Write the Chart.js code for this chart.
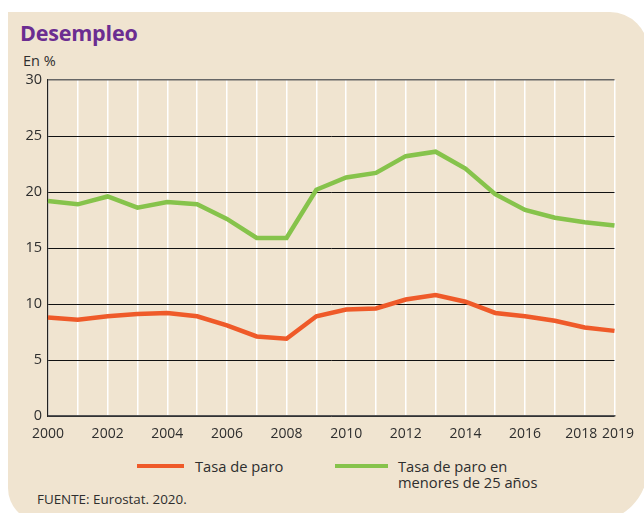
<!DOCTYPE html>
<html>
<head>
<meta charset="utf-8">
<script src="https://cdn.jsdelivr.net/npm/chart.js@4"></script>
<style>
  html, body { margin: 0; padding: 0; background: #fff; }
  body { width: 644px; height: 513px; position: relative; overflow: hidden; font-family: 'Open Sans', sans-serif; color: #2e2e2e; }
  #panel {
    position: absolute; left: 8px; top: 12px; width: 640px; height: 510px;
    background: #f0e4d0;
    border-radius: 0 38px 55px 34px;
  }
  #titulo { position: absolute; left: 20px; top: 18px; font-size: 21.5px; font-weight: 700; color: #6b2d91; letter-spacing: -0.2px; }
  #unidad { position: absolute; left: 23px; top: 51px; font-size: 14.5px; }
  #grafico { position: absolute; left: 0; top: 0; }
  .ley { position: absolute; font-size: 14.7px; line-height: 16px; }
  .linea { position: absolute; height: 4px; }
  #fuente { position: absolute; left: 37px; top: 490px; font-size: 13.4px; }
</style>
</head>
<body>
<div id="panel"></div>
<div id="titulo">Desempleo</div>
<div id="unidad">En %</div>
<canvas id="grafico" width="644" height="450"></canvas>
<div class="linea" style="left:137px; top:464px; width:47px; background:#ef5a29;"></div>
<div class="ley" style="left:195px; top:458px;">Tasa de paro</div>
<div class="linea" style="left:335px; top:464px; width:53px; background:#86c34b;"></div>
<div class="ley" style="left:398px; top:458px;">Tasa de paro en<br>menores de 25 años</div>
<div id="fuente">FUENTE: Eurostat. 2020.</div>
<script>
const anios = [2000, 2001, 2002, 2003, 2004, 2005, 2006, 2007, 2008, 2009,
               2010, 2011, 2012, 2013, 2014, 2015, 2016, 2017, 2018, 2019];
const tasaParo = [8.8, 8.6, 8.9, 9.1, 9.2, 8.9, 8.1, 7.1, 6.9, 8.9,
                  9.5, 9.6, 10.4, 10.8, 10.2, 9.2, 8.9, 8.5, 7.9, 7.6];
const tasaJovenes = [19.2, 18.9, 19.6, 18.6, 19.1, 18.9, 17.6, 15.9, 15.9, 20.2,
                     21.3, 21.7, 23.2, 23.6, 22.1, 19.8, 18.4, 17.7, 17.3, 17.0];
const marcasY = [0, 5, 10, 15, 20, 25, 30];

Chart.defaults.font.family = "'Open Sans', sans-serif";
Chart.defaults.font.size = 14;
Chart.defaults.color = '#2e2e2e';

const ctx = document.getElementById('grafico');
new Chart(ctx, {
    type: 'line',
    data: {
        labels: anios,
        datasets: [
            {
                label: 'Tasa de paro en menores de 25 años',
                data: tasaJovenes,
                borderColor: '#86c34b',
                borderWidth: 4.5,
                pointRadius: 0,
                tension: 0
            },
            {
                label: 'Tasa de paro',
                data: tasaParo,
                borderColor: '#ef5a29',
                borderWidth: 4.5,
                pointRadius: 0,
                tension: 0
            }
        ]
    },
    options: {
        responsive: false,
        animation: false,
        layout: { padding: { left: 0, top: 80, right: 26, bottom: 0 } },
        plugins: {
            legend: { display: false },
            tooltip: { enabled: false }
        },
        scales: {
            x: {
                grid: { color: '#ffffff', lineWidth: 1.5, drawTicks: false },
                border: { color: '#555', width: 1.5 },
                ticks: {
                    autoSkip: false,
                    maxRotation: 0,
                    padding: 10,
                    callback: function (v, i) {
                        const a = anios[i];
                        // los dos últimos años están muy juntos: se separan con espacios
                        if (i === anios.length - 1) return '\u2002' + a;
                        if (i === anios.length - 2) return a + '\u2002';
                        return a % 2 === 0 ? String(a) : '';
                    }
                },
                afterFit: function (s) { s.height = 34; }
            },
            y: {
                min: 0,
                max: 30,
                afterBuildTicks: function (s) { s.ticks = marcasY.map(v => ({ value: v })); },
                grid: {
                    color: c => c.tick && c.tick.value === 30 ? '#666' : '#111',
                    lineWidth: c => c.tick && c.tick.value === 30 ? 1.5 : 1,
                    drawTicks: false
                },
                border: { color: '#222', width: 1.2 },
                ticks: { padding: 6, font: { size: 14.5 } },
                afterFit: function (s) { s.width = 48; }
            }
        }
    }
});
</script>
</body>
</html>
